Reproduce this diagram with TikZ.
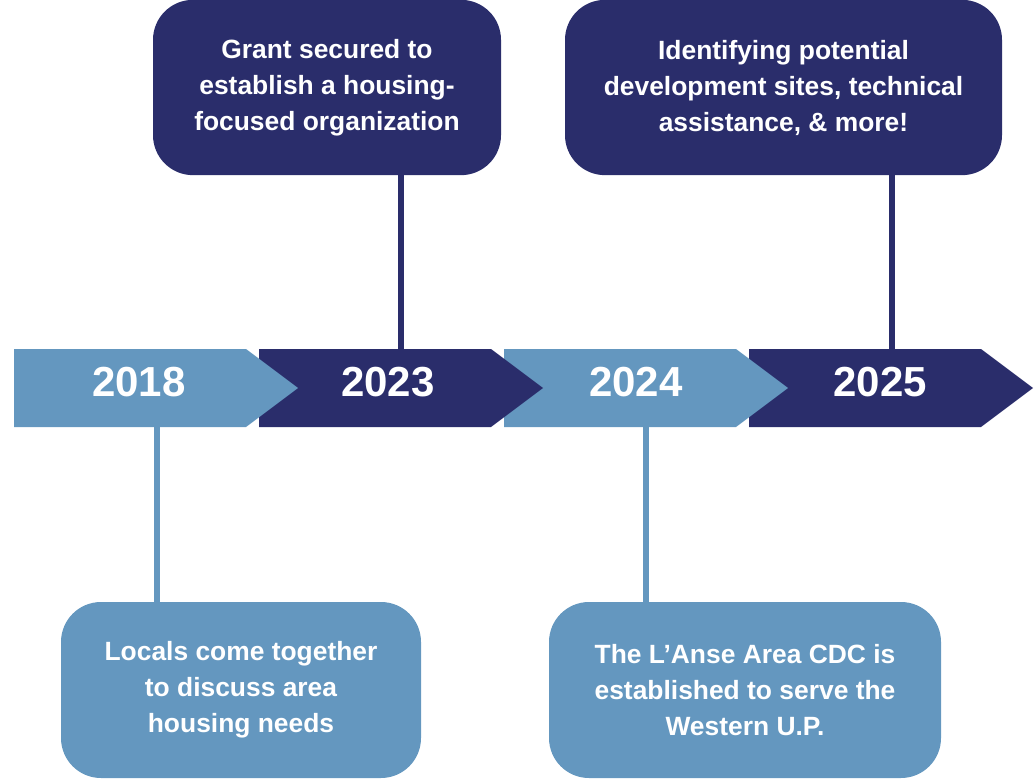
\documentclass[tikz,border=0pt]{standalone}
\usepackage{fontspec}
\setmainfont{Liberation Sans}
\usepackage{tikz}
\usetikzlibrary{
  calc,
  positioning
}
\definecolor{navy}{RGB}{42,45,107}
\definecolor{steel}{RGB}{100,151,191}
\tikzset{
  eventbox/.style={
    rounded corners=30pt,
    minimum height=131.5pt,
    inner sep=0pt,
    align=center,
    text=white,
    font=\bfseries\fontsize{19.8}{27}\selectfont
  },
  yearlabel/.style={inner sep=0pt, text=white, font=\bfseries\fontsize{31.5}{36}\selectfont},
  stem/.style={line width=4.1pt},
}

\begin{document}
\begin{tikzpicture}[x=0.75pt, y=-0.75pt]
\useasboundingbox (0,0) rectangle (1034,780);

% --- chevron band, drawn right to left so each tip sits on top ---
\fill[navy]  (749,349) -- (981,349) -- (1033,388) -- (981,427) -- (749,427) -- cycle;
\fill[steel] (504,349) -- (736,349) -- (788,388) -- (736,427) -- (504,427) -- cycle;
\fill[navy]  (259,349) -- (491,349) -- (543,388) -- (491,427) -- (259,427) -- cycle;
\fill[steel] (14,349) -- (246,349) -- (298,388) -- (246,427) -- (14,427) -- cycle;

\node[yearlabel] (y2018) at (139,382) {2018};
\node[yearlabel] (y2023) at (388,382) {2023};
\node[yearlabel] (y2024) at (636,382) {2024};
\node[yearlabel] (y2025) at (880,382) {2025};

% --- stem anchors on the band ---
\coordinate (s2018) at (157,427);
\coordinate (s2023) at (401,349);
\coordinate (s2024) at (646,427);
\coordinate (s2025) at (892,349);

% --- event boxes ---
\node[eventbox, fill=navy, minimum width=261pt] (grant) at (327,87.5)
  {Grant secured to\\establish a housing-\\focused organization};
\node[eventbox, fill=navy, minimum width=327.75pt] (sites) at (783.5,87.5)
  {Identifying potential\\development sites, technical\\assistance, \& more!};
\node[eventbox, fill=steel, minimum width=270pt, minimum height=132pt] (locals) at (241,690)
  {Locals come together\\to discuss area\\housing needs};
\node[eventbox, fill=steel, minimum width=294pt, minimum height=132pt] (cdc) at (745,690)
  {The L’Anse Area CDC is\\established to serve the\\Western U.P.};

% --- stems ---
\draw[stem, navy]  (s2023) -- (s2023 |- grant.south);
\draw[stem, navy]  (s2025) -- (s2025 |- sites.south);
\draw[stem, steel] (s2018) -- (s2018 |- locals.north);
\draw[stem, steel] (s2024) -- (s2024 |- cdc.north);

\end{tikzpicture}
\end{document}
